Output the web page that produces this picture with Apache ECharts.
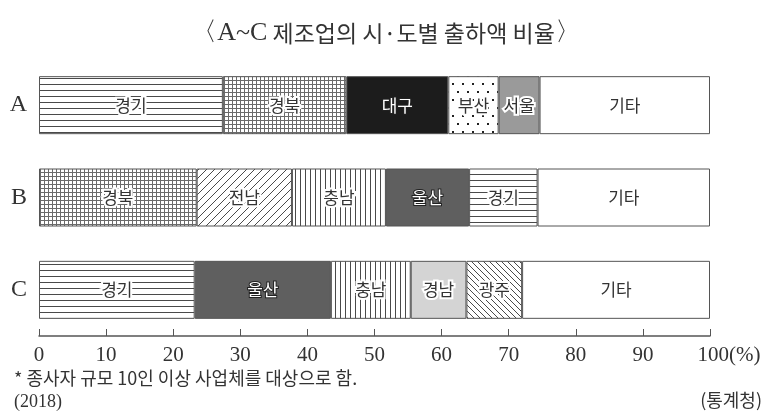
<!DOCTYPE html>
<html>
<head>
<meta charset="utf-8">
<script src="https://cdn.jsdelivr.net/npm/echarts@6/dist/echarts.min.js"></script>
<style>
  html, body { margin: 0; padding: 0; background: #fff; }
  #chart { width: 765px; height: 414px; }
</style>
</head>
<body>
<div id="chart"></div>
<script>
// 행(제조업)과 각 행의 시·도 구성
const rows = ['A', 'B', 'C'];
const regionsA = ['경기', '경북', '대구', '부산', '서울', '기타'];
const valuesA = [27.4, 18.4, 15.2, 7.5, 6.1, 25.4];
const regionsB = ['경북', '전남', '충남', '울산', '경기', '기타'];
const valuesB = [23.5, 14.2, 14.0, 12.4, 10.2, 25.7];
const regionsC = ['경기', '울산', '충남', '경남', '광주', '기타'];
const valuesC = [23.2, 20.3, 11.9, 8.3, 8.3, 28.0];
const xTicks = [0, 10, 20, 30, 40, 50, 60, 70, 80, 90, 100];

const rowRegions = [regionsA, regionsB, regionsC];
const rowValues = [valuesA, valuesB, valuesC];

// 패턴 채우기 만들기
function makePattern(w, h, draw, ink) {
  const c = document.createElement('canvas');
  c.width = w; c.height = h;
  const ctx = c.getContext('2d');
  ctx.fillStyle = '#fff';
  ctx.fillRect(0, 0, w, h);
  ctx.fillStyle = ink || '#4a4a4a';
  ctx.strokeStyle = ink || '#4a4a4a';
  ctx.lineWidth = 1;
  draw(ctx);
  return { image: c, repeat: 'repeat' };
}

const fills = {
  '경기': makePattern(8, 6, ctx => { ctx.fillRect(0, 0, 8, 1); }),
  '경북': makePattern(4, 4, ctx => { ctx.fillRect(0, 0, 4, 1); ctx.fillRect(0, 0, 1, 4); }, '#6a6a6a'),
  '대구': '#1c1c1c',
  '부산': makePattern(10, 16, ctx => {
    ctx.fillRect(2, 3, 2, 2);
    ctx.fillRect(7, 11, 2, 2);
  }, '#222'),
  '서울': '#9a9a9a',
  '전남': makePattern(8, 8, ctx => {
    ctx.beginPath();
    ctx.moveTo(-1, 9); ctx.lineTo(9, -1);
    ctx.moveTo(-1, 1); ctx.lineTo(1, -1);
    ctx.moveTo(7, 9); ctx.lineTo(9, 7);
    ctx.stroke();
  }),
  '충남': makePattern(5, 8, ctx => { ctx.fillRect(0, 0, 1, 8); }),
  '울산': '#5f5f5f',
  '경남': '#d4d4d4',
  '광주': makePattern(6, 6, ctx => {
    ctx.beginPath();
    ctx.moveTo(-1, -1); ctx.lineTo(7, 7);
    ctx.moveTo(5, -1); ctx.lineTo(7, 1);
    ctx.moveTo(-1, 5); ctx.lineTo(1, 7);
    ctx.stroke();
  }),
  '기타': '#ffffff'
};
const darkFills = ['대구', '울산'];

const series = [];
for (let i = 0; i < 6; i++) {
  series.push({
    type: 'bar',
    stack: 'total',
    barWidth: 58,
    animation: false,
    data: rows.map((r, k) => {
      const name = rowRegions[k][i];
      const dark = darkFills.indexOf(name) >= 0;
      return {
        value: rowValues[k][i],
        name: name,
        itemStyle: { color: fills[name] },
        label: {
          show: true,
          position: 'inside',
          fontFamily: 'Noto Sans CJK KR',
          fontSize: 17,
          color: dark ? '#fff' : '#333',
          textBorderColor: dark ? '#222' : '#fff',
          textBorderWidth: dark ? 2 : 4
        }
      };
    }),
    itemStyle: { borderColor: '#555', borderWidth: 1 },
    label: {
      show: true,
      position: 'inside',
      formatter: p => p.data.name,
      fontFamily: 'Noto Sans CJK KR',
      fontSize: 17
    }
  });
}

const chart = echarts.init(document.getElementById('chart'));
chart.setOption({
  backgroundColor: '#fff',
  title: {
    text: '{s|〈A~C} 제조업의 시·도별 출하액 비율{s|〉}',
    left: 381,
    textAlign: 'center',
    top: 15,
    textStyle: {
      fontFamily: 'Noto Sans CJK KR',
      fontWeight: 'normal',
      fontSize: 23,
      color: '#333',
      rich: {
        s: { fontFamily: 'Liberation Serif', fontSize: 26, color: '#333' }
      }
    }
  },
  grid: { left: 39, right: 55, top: 59, bottom: 78 },
  xAxis: {
    type: 'value',
    min: 0,
    max: 100,
    interval: 10,
    splitLine: { show: false },
    axisLine: { show: true, lineStyle: { color: '#555', width: 1.5 } },
    axisTick: { show: true, inside: true, length: 7, lineStyle: { color: '#555' } },
    axisLabel: {
      margin: 9,
      fontFamily: 'Liberation Serif',
      fontSize: 21,
      color: '#333',
      formatter: v => v === 100 ? '{h|100(%)}' : String(v),
      rich: { h: { padding: [0, 0, 0, 38], fontFamily: 'Liberation Serif', fontSize: 21, color: '#333' } }
    },
    customValues: xTicks
  },
  yAxis: {
    type: 'category',
    data: rows,
    inverse: true,
    axisLine: { show: false },
    axisTick: { show: false },
    axisLabel: {
      margin: 12,
      fontFamily: 'Liberation Serif',
      fontSize: 24,
      color: '#333'
    }
  },
  series: series,
  graphic: [
    {
      type: 'text', left: 14, top: 369,
      style: { text: '* 종사자 규모 10인 이상 사업체를 대상으로 함.', font: '18px "Noto Sans CJK KR"', fill: '#333' }
    },
    {
      type: 'text', left: 14, top: 393,
      style: { text: '(2018)', font: '18px "Liberation Serif"', fill: '#333' }
    },
    {
      type: 'text', right: 3, top: 391,
      style: { text: '(통계청)', font: '18px "Noto Sans CJK KR"', fill: '#333' }
    }
  ]
});
</script>
</body>
</html>
